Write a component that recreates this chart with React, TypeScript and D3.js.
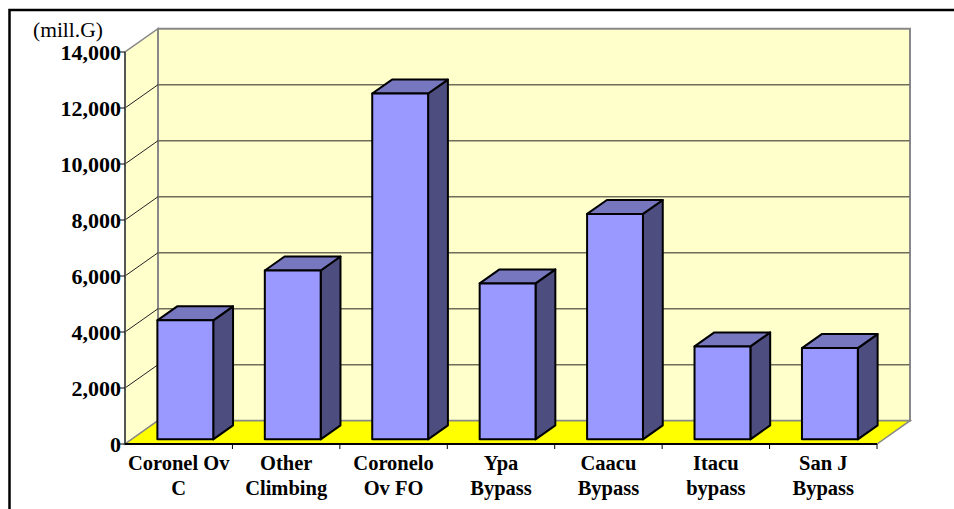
import React from "react";
import * as d3 from "d3";

// Project cost by section (millions of guaraníes)
const categoryLines: string[][] = [
  ["Coronel Ov", "C"],
  ["Other", "Climbing"],
  ["Coronelo", "Ov FO"],
  ["Ypa", "Bypass"],
  ["Caacu", "Bypass"],
  ["Itacu", "bypass"],
  ["San J", "Bypass"],
];
const costValues: number[] = [4250, 6030, 12350, 5570, 8050, 3320, 3260];
const yTickValues: number[] = [0, 2000, 4000, 6000, 8000, 10000, 12000, 14000];
const unitLabel = "(mill.G)";

const W = 954;
const H = 509;

// front plane of the 3D box
const x0 = 125;
const x1 = 877;
const yBottom = 444;
const yTop = 52;
// depth vector of the box
const DX = 33;
const DY = -23.3;
// bar sits between these depth fractions
const barDepthFrom = 0.2;
const barDepthTo = 0.8;

const FONT = "'Times New Roman', 'Liberation Serif', serif";

export default function App() {
  const ids = categoryLines.map((_, i) => String(i));
  const x = d3.scaleBand<string>().domain(ids).range([x0, x1]).padding(0);
  const y = d3.scaleLinear().domain([0, 14000]).range([yBottom, yTop]);
  const step = x.step();
  const barW = step * 0.52;

  const pt = (px: number, py: number, f: number) => [px + DX * f, py + DY * f];
  const poly = (pts: number[][]) => pts.map((p) => p.join(",")).join(" ");

  const gridVals = yTickValues.filter((v) => v > 0 && v < 14000);

  return (
    <svg
      width={W}
      height={H}
      style={{ position: "absolute", left: 0, top: 0, background: "#fff" }}
    >
      {/* outer frame */}
      <rect x={9.5} y={10} width={980} height={560} fill="none" stroke="#000" strokeWidth={2.5} />

      {/* side wall */}
      <polygon
        points={poly([[x0, y(0)], [x0, y(14000)], pt(x0, y(14000), 1), pt(x0, y(0), 1)])}
        fill="#FFFFCC"
        stroke="#888"
        strokeWidth={1.5}
      />
      {/* back wall */}
      <polygon
        points={poly([pt(x0, y(0), 1), pt(x0, y(14000), 1), pt(x1, y(14000), 1), pt(x1, y(0), 1)])}
        fill="#FFFFCC"
        stroke="#888"
        strokeWidth={2}
      />
      {/* floor */}
      <polygon
        points={poly([[x0, y(0)], pt(x0, y(0), 1), pt(x1, y(0), 1), [x1, y(0)]])}
        fill="#FFFF00"
        stroke="#888"
        strokeWidth={1.5}
      />

      {/* gridlines */}
      {gridVals.map((v) => {
        const a = [x0, y(v)];
        const b = pt(x0, y(v), 1);
        const c = pt(x1, y(v), 1);
        return (
          <g key={v}>
            <line x1={a[0]} y1={a[1]} x2={b[0]} y2={b[1]} stroke="#222" strokeWidth={1} />
            <line x1={b[0]} y1={b[1]} x2={c[0]} y2={c[1]} stroke="#6e6e5a" strokeWidth={1.4} />
          </g>
        );
      })}

      {/* y axis */}
      <line x1={x0} y1={y(0)} x2={x0} y2={y(14000)} stroke="#555" strokeWidth={2} />
      {yTickValues.map((v) => (
        <g key={v}>
          <line x1={x0 - 5} y1={y(v)} x2={x0} y2={y(v)} stroke="#000" strokeWidth={1} />
          <text
            x={x0 - 4}
            y={y(v) + 7.5}
            textAnchor="end"
            fontFamily={FONT}
            fontWeight="bold"
            fontSize={22}
            fill="#000"
          >
            {d3.format(",")(v)}
          </text>
        </g>
      ))}
      <text x={33} y={37} fontFamily={FONT} fontSize={21.5} fill="#000">
        {unitLabel}
      </text>

      {/* x axis */}
      <line x1={x0} y1={y(0)} x2={x1} y2={y(0)} stroke="#000" strokeWidth={2} />
      {ids.map((id) => (
        <line
          key={"t" + id}
          x1={(x(id) as number) + step}
          y1={y(0)}
          x2={(x(id) as number) + step}
          y2={y(0) + 5}
          stroke="#000"
          strokeWidth={1}
        />
      ))}

      {/* bars */}
      {costValues.map((v, i) => {
        const id = ids[i];
        const cx = (x(id) as number) + step / 2;
        const l = cx - barW / 2;
        const r = cx + barW / 2;
        const bF = pt(l, y(0), barDepthFrom);
        const fL = bF[0];
        const fR = r + DX * barDepthFrom;
        const fB = bF[1];
        const fT = y(v) + DY * barDepthFrom;
        const ddx = DX * (barDepthTo - barDepthFrom);
        const ddy = DY * (barDepthTo - barDepthFrom);
        return (
          <g key={id} stroke="#000" strokeWidth={2} strokeLinejoin="round">
            <polygon
              points={poly([[fR, fB], [fR, fT], [fR + ddx, fT + ddy], [fR + ddx, fB + ddy]])}
              fill="#4D4D80"
            />
            <polygon
              points={poly([[fL, fT], [fL + ddx, fT + ddy], [fR + ddx, fT + ddy], [fR, fT]])}
              fill="#7777BF"
            />
            <rect x={fL} y={fT} width={fR - fL} height={fB - fT} fill="#9999FF" />
          </g>
        );
      })}

      {/* category labels */}
      {categoryLines.map((lines, i) => {
        const cx = (x(ids[i]) as number) + step / 2;
        return (
          <text
            key={"c" + i}
            textAnchor="middle"
            fontFamily={FONT}
            fontWeight="bold"
            fontSize={20.5}
            fill="#000"
          >
            {lines.map((s, k) => (
              <tspan key={k} x={cx} y={470 + k * 25}>
                {s}
              </tspan>
            ))}
          </text>
        );
      })}
    </svg>
  );
}
